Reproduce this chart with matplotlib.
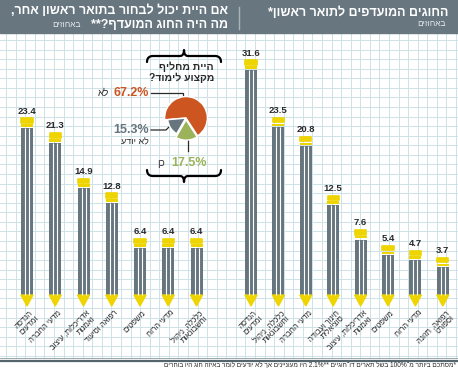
import re
import numpy as np
import matplotlib
matplotlib.use('Agg')
import matplotlib.pyplot as plt
from matplotlib.patches import Rectangle, Polygon, PathPatch
from matplotlib.path import Path

plt.rcParams['font.family'] = ['Liberation Sans', 'DejaVu Sans']

# data (visual order, left to right)
pref_labels = ['הנדסה\nומדעים', 'כלכלה, ניהול\nוחשבונאות', 'מדעי החברה',
               'חינוך ועבודה\nסוציאלית', 'אדריכלות, עיצוב\nואמנות', 'משפטים',
               'מדעי הרוח', 'רפואה, תזונה\nוספורט']
pref_values = [31.6, 23.5, 20.8, 12.5, 7.6, 5.4, 4.7, 3.7]

alt_labels = ['הנדסה\nומדעים', 'מדעי החברה', 'אדריכלות, עיצוב\nואמנות',
              'רפואה וסיעוד', 'משפטים', 'מדעי הרוח', 'כלכלה, ניהול\nוחשבונאות']
alt_values = [23.4, 21.3, 14.9, 12.8, 6.4, 6.4, 6.4]

switch_labels = ['לא', 'לא יודע', 'כן']
switch_values = [67.2, 15.3, 17.5]

title_left_1 = 'אם היית יכול לבחור בתואר ראשון אחר,'
title_left_2 = 'מה היה החוג המועדף?**'
title_right = 'החוגים המועדפים לתואר ראשון*'
unit_text = 'באחוזים'
question = 'היית מחליף\nמקצוע לימוד?'
footnote = ('*מסתכם ביותר מ־100% בשל תארים דו־חוגיים '
            '**2.1% היו מעוניינים אך לא יודעים לומר באיזה חוג היו בוחרים')

GRAY = '#66757e'
YELLOW = '#eed400'
ORANGE = '#cc5520'
GREEN = '#9db35b'
DARK = '#2a2a2a'
GRID = '#cde2e8'


def vis(s):
    # crude RTL -> visual order (keep number runs LTR)
    out = []
    for ln in s.split('\n'):
        r = ln[::-1]
        r = re.sub(r'%?[0-9][0-9.]*', lambda m: m.group(0)[::-1], r)
        out.append(r)
    return '\n'.join(out)


W, H = 458, 372
fig = plt.figure(figsize=(W / 100, H / 100), dpi=100)

# background in pixel coords
bg = fig.add_axes([0, 0, 1, 1])
bg.set_xlim(0, W)
bg.set_ylim(H, 0)
bg.axis('off')

for gx in np.arange(6.2, W, 9.57):
    bg.plot([gx, gx], [33, 358], color=GRID, lw=0.7, zorder=0)
for gy in np.arange(40.0, 358, 9.57):
    bg.plot([0, W], [gy, gy], color=GRID, lw=0.7, zorder=0)

bg.add_patch(Rectangle((0, 0), W, 33, color='#67767f', zorder=1))
bg.plot([239, 239], [7, 29], color='#aab5bb', lw=1.0, zorder=2)
bg.plot([0, W], [358.3, 358.3], color='#8a979e', lw=0.6, zorder=2)
bg.plot([0, W], [360.5, 360.5], color='#56646c', lw=1.6, zorder=2)

bg.text(448, 13, vis(title_right), color='white', fontsize=9, fontweight='bold',
        ha='right', va='center', zorder=3)
bg.text(446, 25, vis(unit_text), color='#e6eaec', fontsize=6, ha='right', va='center', zorder=3)
bg.text(228, 11, vis(title_left_1), color='white', fontsize=9, fontweight='bold',
        ha='right', va='center', zorder=3)
bg.text(228, 25, vis(title_left_2), color='white', fontsize=9, fontweight='bold',
        ha='right', va='center', zorder=3)
bg.text(81, 25.5, vis(unit_text), color='#e6eaec', fontsize=6, ha='right', va='center', zorder=3)

bg.text(456, 365.5, vis(footnote), color=DARK, fontsize=4.7, ha='right', va='center')

# question block
bg.text(214, 72, vis(question), color=DARK, fontsize=7.5, fontweight='bold',
        ha='right', va='center', linespacing=1.1)


def brace(y, up):
    s = -1 if up else 1  # direction of the tip
    verts = [(147, y + 6 * -s), (147, y), (153, y), (180, y), (184, y),
             (184, y + 6 * s), (184, y), (188, y), (215, y), (221, y), (221, y + 6 * -s)]
    codes = [Path.MOVETO, Path.CURVE3, Path.CURVE3, Path.LINETO, Path.CURVE3, Path.CURVE3,
             Path.CURVE3, Path.CURVE3, Path.LINETO, Path.CURVE3, Path.CURVE3]
    bg.add_patch(PathPatch(Path(verts, codes), fill=False, lw=1.6, color='black',
                           capstyle='round', joinstyle='round', zorder=3))


brace(56, True)
brace(176, False)

# pie leader lines + labels
bg.plot([151, 183, 183], [93, 93, 102], color=DARK, lw=0.9, zorder=3)
bg.plot([151, 166, 171], [130, 130, 125], color=DARK, lw=0.9, zorder=3)
bg.plot([188, 188], [138, 151], color=DARK, lw=0.9, zorder=3)

bg.text(149, 93, f'{switch_values[0]}%', color=ORANGE, fontsize=9, fontweight='bold',
        ha='right', va='center')
bg.text(109, 93, vis(switch_labels[0]), color=DARK, fontsize=7, ha='right', va='center')
bg.text(149, 130, f'{switch_values[1]}%', color=GRAY, fontsize=9, fontweight='bold',
        ha='right', va='center')
bg.text(149, 142, vis(switch_labels[1]), color=DARK, fontsize=6.5, ha='right', va='center')
bg.text(171, 163, f'{switch_values[2]}%', color=GREEN, fontsize=9, fontweight='bold',
        ha='left', va='center')
bg.text(165, 163, vis(switch_labels[2]), color=DARK, fontsize=7, ha='right', va='center')

# pie
pax = fig.add_axes([164 / W, 1 - 141 / H, 44 / W, 44 / H])
wedges, _ = pax.pie(switch_values, colors=[ORANGE, GRAY, GREEN], startangle=-57,
                    explode=[0, 0.02, 0.09], wedgeprops=dict(edgecolor='white', linewidth=1.0))
wedges[1].set_radius(0.84)
wedges[2].set_radius(0.95)
pax.set_xlim(-1.0, 1.0)
pax.set_ylim(-1.08, 0.98)
pax.set_aspect('equal')
pax.axis('off')

# pencils
PX_UNIT = 7.07
BASE_Y = 283.5


def panel(px_left, px_right, x0, step, values, labels):
    bottom_px, top_px = 359, 33
    ax = fig.add_axes([px_left / W, 1 - bottom_px / H, (px_right - px_left) / W,
                       (bottom_px - top_px) / H])
    ax.set_xlim((px_left - x0) / step, (px_right - x0) / step)
    ax.set_ylim((BASE_Y - bottom_px) / PX_UNIT, (BASE_Y - top_px) / PX_UNIT)
    ax.axis('off')
    ax.patch.set_alpha(0)
    w = 12 / step
    xs = np.arange(len(values))
    v = np.array(values)
    body_bot = -11.5 / PX_UNIT
    tip = -22.5 / PX_UNIT
    body_top = v - 10 / PX_UNIT
    ax.bar(xs, body_top - body_bot, bottom=body_bot, width=w, color=GRAY, zorder=2)
    # eraser, slightly rounded by a same-colour edge
    ax.bar(xs, 4.6 / PX_UNIT, bottom=v - 5.0 / PX_UNIT, width=w * 0.92, color=YELLOW,
           edgecolor=YELLOW, linewidth=1.2, joinstyle='round', zorder=2)
    ax.bar(xs, 2.4 / PX_UNIT, bottom=v - 8.6 / PX_UNIT, width=w, color=YELLOW, zorder=2)
    for x, bt in zip(xs, body_top):
        ax.vlines([x - w / 6, x + w / 6], body_bot, bt, color='white', lw=0.8, zorder=3)
        ax.add_patch(Polygon([(x - w / 2, body_bot), (x + w / 2, body_bot), (x, tip)],
                             closed=True, color=YELLOW, zorder=2))
    for x, val, lab in zip(xs, v, labels):
        ax.text(x, val + 7 / PX_UNIT, f'{val}', ha='center', va='center', fontsize=6.8,
                fontweight='bold', color=DARK)
        ax.text(x + 3 / step, -26 / PX_UNIT, vis(lab), rotation=45, rotation_mode='anchor',
                ha='right', va='top', multialignment='right', fontsize=5.6, color=DARK,
                linespacing=1.0)
    return ax


panel(0, 229, 27, 28.25, alt_values, alt_labels)
panel(238, 458, 251, 27.4, pref_values, pref_labels)

fig.savefig('out.png', dpi=100)
